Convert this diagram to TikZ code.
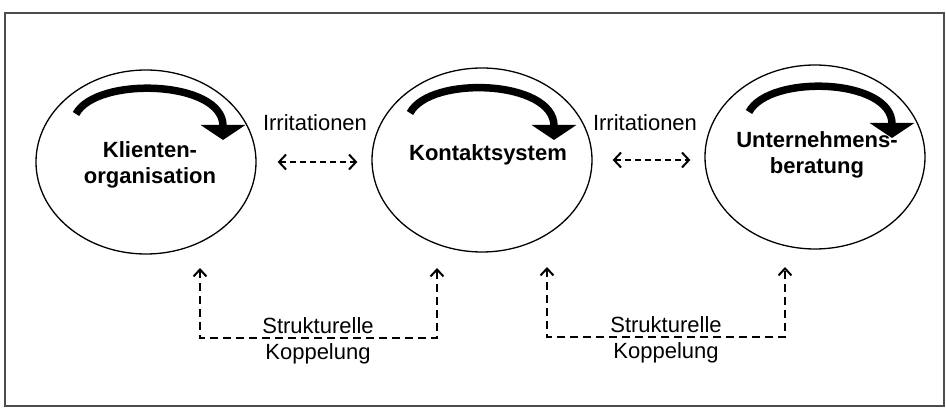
\documentclass[tikz,border=0pt]{standalone}
\usepackage{fontspec}
\setmainfont{Liberation Sans}
\usetikzlibrary{shapes.geometric,arrows.meta,calc}

\tikzset{
  sys/.style={draw, ellipse, line width=1.3pt, minimum width=220, minimum height=184, inner sep=0pt},
  systext/.style={font=\fontsize{22}{26}\selectfont\bfseries, align=center},
  lbl/.style={font=\fontsize{22}{26}\selectfont, align=center},
  turn/.style={line width=7.5pt, -{Triangle[width=44pt,length=15pt]}},
  irr/.style={line width=1.7pt, dash pattern=on 6pt off 4pt,
    {Straight Barb[length=7pt,width=15pt,line width=2pt]}-{Straight Barb[length=7pt,width=15pt,line width=2pt]}},
  koppl/.style={line width=1.8pt, dash pattern=on 8pt off 5pt,
    {Straight Barb[length=7pt,width=13pt,line width=2pt]}-{Straight Barb[length=7pt,width=13pt,line width=2pt]}}
}

\begin{document}
\begin{tikzpicture}[x=1pt,y=-1pt]
  \useasboundingbox (0,0) rectangle (946,409);
  % frame
  \draw[line width=1.2pt, black!70] (5,13) rectangle (944,406);

  % the three systems
  \node[sys] (klient) at (146,162) {};
  \node[sys] (kontakt) at (482,160) {};
  \node[sys] (berat) at (815,157) {};

  \node[systext] (klient-txt) at (150,165) {Klienten-\\organisation};
  \node[systext] (kontakt-txt) at (488,155) {Kontaktsystem};
  \node[systext] (berat-txt) at (817,155) {Unternehmens-\\beratung};

  % self reference
  \draw[turn] ($(klient)+(-70,-48)$) .. controls +(20,-38) and +(0,-60) .. ($(klient)+(77,-22)$);
  \draw[turn] ($(kontakt)+(-72,-47)$) .. controls +(20,-38) and +(0,-60) .. ($(kontakt)+(72,-20)$);
  \draw[turn] ($(berat)+(-66,-45)$) .. controls +(20,-38) and +(0,-60) .. ($(berat)+(77,-19)$);

  % irritations
  \draw[irr, shorten <=21pt, shorten >=14pt] (klient.east) -- (kontakt.west |- klient.east);
  \draw[irr, shorten <=20pt, shorten >=14pt] (kontakt.east) -- (berat.west |- kontakt.east);
  \node[lbl] (irr1) at (315,123) {Irritationen};
  \node[lbl] (irr2) at (645,123) {Irritationen};

  % structural coupling
  \coordinate (kl-k) at (200,268);
  \coordinate (ks-k1) at (437,268);
  \coordinate (ks-k2) at (547,267);
  \coordinate (ub-k) at (785,267);
  \draw[koppl] (kl-k) -- ++(0,70) -| (ks-k1);
  \draw[koppl] (ks-k2) -- ++(0,70) -| (ub-k);
  \node[lbl] (kop1) at (318,341) {Strukturelle\\Koppelung};
  \node[lbl] (kop2) at (666,340) {Strukturelle\\Koppelung};

\end{tikzpicture}
\end{document}
